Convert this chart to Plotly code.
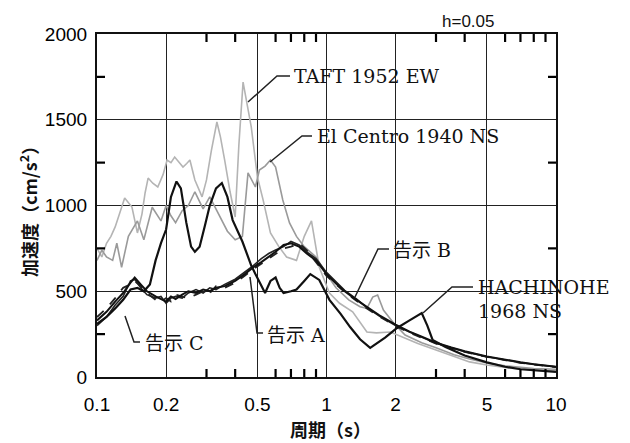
import math
import plotly.graph_objects as go

# ---------------- data ----------------
taft_T = [0.1, 0.105, 0.11, 0.115, 0.12, 0.126, 0.132, 0.142, 0.15, 0.157, 0.162, 0.167, 0.175,
          0.184, 0.194, 0.202, 0.21, 0.218, 0.228, 0.237, 0.246, 0.254, 0.267, 0.287, 0.3, 0.315,
          0.333, 0.345, 0.36, 0.38, 0.4, 0.415, 0.433, 0.45, 0.47, 0.5, 0.53, 0.57, 0.62, 0.67,
          0.74, 0.8, 0.86, 0.93, 1.03, 1.14, 1.3, 1.5, 1.65, 1.9, 2.15, 2.5, 3.0, 3.5, 4.2, 5.0,
          6.0, 7.0, 8.0, 9.0, 10.0]
taft_A = [750, 700, 780, 820, 875, 960, 1044, 991, 840, 950, 1073, 1160, 1130,
          1108, 1180, 1265, 1250, 1283, 1250, 1224, 1245, 1265, 1149, 1050, 1149, 1320,
          1487, 1400, 1265, 1080, 933, 1350, 1720, 1600, 1458, 1166, 1030, 840, 760, 700,
          680, 820, 910, 640, 490, 430, 380, 262, 257, 262, 233, 195, 157, 125, 88, 70,
          55, 47, 42, 38, 35]

elc_T = [0.1, 0.105, 0.11, 0.117, 0.122, 0.128, 0.137, 0.15, 0.16, 0.174, 0.19, 0.2, 0.21,
         0.22, 0.235, 0.25, 0.267, 0.29, 0.31, 0.33, 0.35, 0.37, 0.4, 0.43, 0.455, 0.49, 0.51,
         0.54, 0.57, 0.6, 0.645, 0.69, 0.74, 0.8, 0.9, 1.0, 1.1, 1.25, 1.4, 1.5, 1.59, 1.67,
         1.77, 1.96, 2.2, 2.6, 3.0, 3.6, 4.2, 5.0, 6.0, 7.0, 8.0, 10.0]
elc_A = [680, 740, 700, 680, 780, 640, 820, 910, 800, 990, 910, 1000, 940,
         900, 970, 1000, 1080, 980, 1050, 980, 910, 850, 800, 820, 1190, 1108, 1207,
         1230, 1265, 1224, 1032, 898, 820, 760, 700, 600, 520, 450, 410, 400, 466, 478,
         390, 315, 245, 200, 170, 130, 105, 82, 65, 55, 50, 45]

hachi_T = [0.1, 0.11, 0.12, 0.13, 0.14, 0.15, 0.16, 0.17, 0.18, 0.19, 0.2, 0.21, 0.222, 0.232,
           0.245, 0.257, 0.267, 0.28, 0.295, 0.31, 0.33, 0.35, 0.37, 0.39, 0.43, 0.47, 0.49,
           0.515, 0.54, 0.57, 0.6, 0.625, 0.65, 0.7, 0.74, 0.8, 0.85, 0.93, 1.03, 1.15, 1.27,
           1.4, 1.55, 1.8, 2.03, 2.3, 2.6, 2.75, 2.9, 3.3, 4.0, 5.0, 6.0, 7.0, 8.0, 10.0]
hachi_A = [310, 350, 400, 450, 510, 520, 500, 540, 680, 780, 860, 1050, 1140, 1100,
           900, 760, 730, 760, 880, 1000, 1100, 1131, 1050, 915, 790, 650, 600,
           540, 490, 560, 580, 520, 490, 500, 510, 560, 600, 566, 450, 370, 290,
           220, 170, 230, 286, 330, 373, 300, 216, 175, 125, 85, 60, 45, 38, 30]

kokuji_T = [0.1, 0.11, 0.12, 0.13, 0.14, 0.146, 0.155, 0.165, 0.18, 0.19, 0.2, 0.21, 0.22,
            0.235, 0.25, 0.27, 0.29, 0.31, 0.33, 0.36, 0.4, 0.44, 0.48, 0.52, 0.56, 0.6, 0.65,
            0.7, 0.76, 0.82, 0.9, 1.0, 1.1, 1.2, 1.35, 1.5, 1.7, 2.0, 2.3, 2.6, 3.0, 3.5, 4.0,
            5.0, 6.0, 7.0, 8.0, 9.0, 10.0]
kokujiA_A = [330, 380, 440, 490, 550, 580, 540, 500, 470, 455, 440, 470, 455,
             480, 500, 490, 510, 500, 520, 530, 560, 600, 640, 670, 700, 730, 770,
             780, 760, 720, 680, 600, 545, 500, 450, 410, 360, 305, 265, 235, 200, 172, 150,
             120, 100, 86, 75, 67, 60]
kokujiB_A = [300, 350, 420, 470, 560, 570, 520, 480, 460, 470, 430, 460, 470,
             460, 490, 510, 490, 520, 510, 540, 570, 610, 650, 690, 720, 740, 760,
             790, 770, 730, 690, 610, 555, 505, 455, 405, 355, 300, 262, 232, 197, 170, 148,
             118, 98, 84, 74, 66, 59]
kokujiC_A = [350, 400, 460, 520, 540, 560, 530, 490, 450, 440, 460, 440, 480,
             470, 460, 480, 500, 490, 530, 520, 550, 590, 630, 660, 690, 720, 750,
             760, 780, 740, 670, 590, 540, 495, 445, 400, 352, 298, 258, 230, 195, 168, 146,
             117, 97, 83, 73, 65, 58]

x_tickvals = [0.1, 0.2, 0.5, 1, 2, 5, 10]
x_ticktext = ["0.1", "0.2", "0.5", "1", "2", "5", "10"]
x_minor = [0.3, 0.4, 0.6, 0.7, 0.8, 0.9, 3, 4, 6, 7, 8, 9]
y_tickvals = [0, 500, 1000, 1500, 2000]
y_minor = [250, 750, 1250, 1750]
X_RANGE = [0.1, 10]
Y_RANGE = [0, 2000]

# page offset from default body margin
OFF = 8
FIG_W, FIG_H = 630 - OFF, 443 - OFF
# plot area in page pixels
L, T, R, B = 97, 34, 556, 377
W, H = R - L, B - T
lx0, lx1 = math.log10(X_RANGE[0]), math.log10(X_RANGE[1])

# ---------------- figure ----------------
fig = go.Figure()
fig.add_trace(go.Scatter(x=taft_T, y=taft_A, mode="lines", name="TAFT 1952 EW",
                         line=dict(color="#b4b4b4", width=1.6)))
fig.add_trace(go.Scatter(x=elc_T, y=elc_A, mode="lines", name="El Centro 1940 NS",
                         line=dict(color="#9a9a9a", width=1.6)))
fig.add_trace(go.Scatter(x=kokuji_T, y=kokujiB_A, mode="lines", name="告示 B",
                         line=dict(color="#222", width=1.6)))
fig.add_trace(go.Scatter(x=kokuji_T, y=kokujiC_A, mode="lines", name="告示 C",
                         line=dict(color="#222", width=1.8, dash="dash")))
fig.add_trace(go.Scatter(x=kokuji_T, y=kokujiA_A, mode="lines", name="告示 A",
                         line=dict(color="#111", width=2.0)))
fig.add_trace(go.Scatter(x=hachi_T, y=hachi_A, mode="lines", name="HACHINOHE 1968 NS",
                         line=dict(color="#111", width=2.2)))


def px(x, y):
    return (x - L) / W, (B - y) / H


serif = "DejaVu Serif, Noto Sans CJK JP"
labels = [
    ("TAFT 1952 EW", 292, 76),
    ("El Centro 1940 NS", 315, 136),
    ("告示 B", 391, 250),
    ("HACHINOHE", 476, 287),
    ("1968 NS", 476, 311),
    ("告示 A", 265, 335),
    ("告示 C", 143, 343),
]
anns = []
for txt, lx, ly in labels:
    xp, yp = px(lx, ly)
    anns.append(dict(text=txt, x=xp, y=yp, xref="paper", yref="paper", xanchor="left",
                     yanchor="middle", showarrow=False,
                     font=dict(family=serif, size=19, color="#111")))
xp, yp = px(440, 22)
anns.append(dict(text="h=0.05", x=xp, y=yp, xref="paper", yref="paper", xanchor="left",
                 yanchor="middle", showarrow=False,
                 font=dict(family="Liberation Sans", size=17, color="#111")))
# axis titles
anns.append(dict(text="<b>周期（s）</b>", x=px(330, 0)[0], y=px(0, 429)[1], xref="paper",
                 yref="paper", xanchor="center", yanchor="middle", showarrow=False,
                 font=dict(family="Noto Sans CJK JP", size=18, color="#111")))
anns.append(dict(text="<b>加速度（cm/s<sup>2</sup>）</b>", x=px(28, 0)[0], y=px(0, 207)[1],
                 xref="paper", yref="paper", xanchor="center", yanchor="middle",
                 textangle=-90, showarrow=False,
                 font=dict(family="Noto Sans CJK JP", size=18, color="#111")))

leaders = [
    [(248, 102), (277, 76), (290, 76)],
    [(270, 162), (302, 136), (312, 136)],
    [(355, 297), (378, 249), (389, 249)],
    [(423, 313), (452, 287), (473, 287)],
    [(250, 277), (257, 333), (263, 333)],
    [(125, 316), (134, 342), (140, 342)],
]
shapes = []
for pts in leaders:
    path = ""
    for i, (a, b) in enumerate(pts):
        xp, yp = px(a, b)
        path += ("M" if i == 0 else " L") + f"{xp:.4f},{yp:.4f}"
    shapes.append(dict(type="path", path=path, xref="paper", yref="paper",
                       line=dict(color="#222", width=1.5)))

# minor tick marks (inside, on all four sides)
TL = 8
for v in x_minor:
    f = (math.log10(v) - lx0) / (lx1 - lx0)
    for y0, y1 in ((0, TL / H), (1, 1 - TL / H)):
        shapes.append(dict(type="line", xref="paper", yref="paper", x0=f, x1=f, y0=y0, y1=y1,
                           line=dict(color="#000", width=2.2)))
for v in y_minor:
    f = (v - Y_RANGE[0]) / (Y_RANGE[1] - Y_RANGE[0])
    for x0, x1 in ((0, TL / W), (1, 1 - TL / W)):
        shapes.append(dict(type="line", xref="paper", yref="paper", x0=x0, x1=x1, y0=f, y1=f,
                           line=dict(color="#000", width=2.2)))

fig.update_layout(
    width=FIG_W, height=FIG_H,
    margin=dict(l=L - OFF, r=(630 - R), t=T - OFF, b=(443 - B), pad=0),
    paper_bgcolor="white", plot_bgcolor="white",
    showlegend=False,
    annotations=anns, shapes=shapes,
    xaxis=dict(type="log", range=[lx0, lx1], tickmode="array", tickvals=x_tickvals,
               ticktext=x_ticktext, ticks="outside", ticklen=9,
               tickcolor="rgba(255,255,255,0)",
               showgrid=True, gridcolor="#222", gridwidth=1.3,
               showline=True, linecolor="#111", linewidth=2.2, mirror=True,
               tickfont=dict(family="Liberation Sans", size=19, color="#000"),
               zeroline=False, automargin=False),
    yaxis=dict(range=Y_RANGE, tickmode="array", tickvals=y_tickvals,
               ticks="outside", ticklen=4, tickcolor="rgba(255,255,255,0)",
               showgrid=True, gridcolor="#222", gridwidth=1.3,
               showline=True, linecolor="#111", linewidth=2.2, mirror=True,
               tickfont=dict(family="Liberation Sans", size=19, color="#000"),
               zeroline=False, automargin=False),
)

fig.write_html("out.html")
